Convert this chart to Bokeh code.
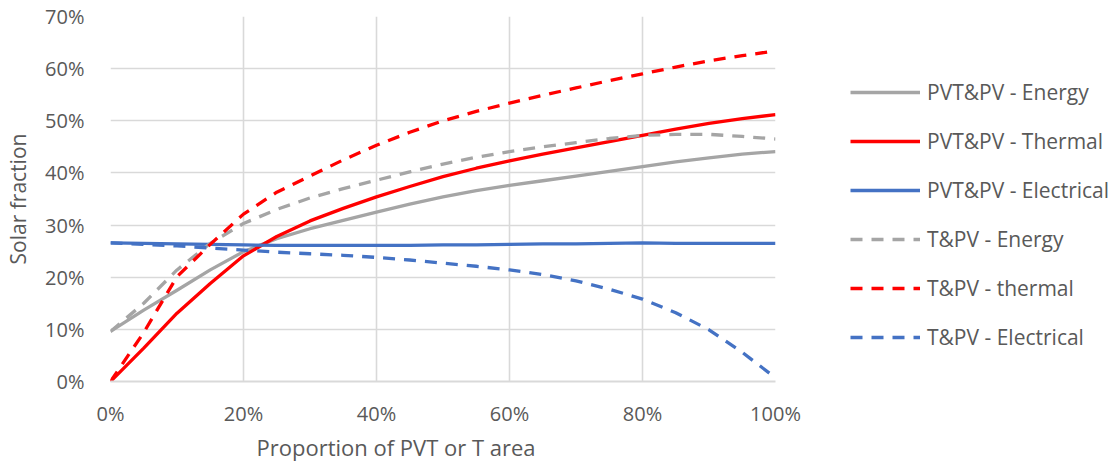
from bokeh.plotting import figure
from bokeh.models import Legend, LegendItem, NumeralTickFormatter, FixedTicker, Range1d, Title
from bokeh.embed import file_html
from bokeh.resources import INLINE

x = [0, 0.05, 0.10, 0.15, 0.20, 0.25, 0.30, 0.35, 0.40, 0.45, 0.50,
     0.55, 0.60, 0.65, 0.70, 0.75, 0.80, 0.85, 0.90, 0.95, 1.00]

pvt_energy = [9.6, 13.7, 17.5, 21.4, 24.9, 27.4, 29.3, 30.9, 32.5, 34.0, 35.4,
              36.6, 37.6, 38.5, 39.4, 40.3, 41.2, 42.1, 42.9, 43.6, 44.1]
pvt_thermal = [0.0, 6.4, 13.1, 18.8, 24.1, 27.8, 30.8, 33.2, 35.4, 37.4, 39.3,
               40.9, 42.3, 43.6, 44.8, 46.0, 47.2, 48.4, 49.5, 50.4, 51.2]
pvt_electrical = [26.6, 26.5, 26.4, 26.3, 26.2, 26.1, 26.1, 26.1, 26.1, 26.1, 26.2,
                  26.2, 26.3, 26.4, 26.4, 26.5, 26.6, 26.5, 26.5, 26.5, 26.5]
t_energy = [9.6, 15.0, 21.4, 26.5, 30.3, 33.0, 35.2, 37.0, 38.6, 40.2, 41.7,
            43.0, 44.1, 45.0, 45.8, 46.6, 47.2, 47.4, 47.4, 47.0, 46.5]
t_thermal = [0.0, 9.4, 20.1, 26.3, 32.1, 36.3, 39.4, 42.5, 45.3, 47.8, 50.0,
             51.8, 53.4, 54.9, 56.3, 57.7, 59.0, 60.3, 61.5, 62.5, 63.4]
t_electrical = [26.6, 26.3, 26.0, 25.6, 25.2, 24.8, 24.5, 24.2, 23.8, 23.3, 22.7,
                22.1, 21.4, 20.5, 19.3, 17.7, 15.8, 13.2, 9.9, 5.6, 0.7]

series = [
    ("PVT&PV - Energy", pvt_energy, "#a5a5a5", "solid"),
    ("PVT&PV - Thermal", pvt_thermal, "#ff0000", "solid"),
    ("PVT&PV - Electrical", pvt_electrical, "#4472c4", "solid"),
    ("T&PV - Energy", t_energy, "#a5a5a5", "12 9"),
    ("T&PV - thermal", t_thermal, "#ff0000", "12 9"),
    ("T&PV - Electrical", t_electrical, "#4472c4", "12 9"),
]

x_ticks = [0, 0.2, 0.4, 0.6, 0.8, 1.0]
y_ticks = [0, 0.1, 0.2, 0.3, 0.4, 0.5, 0.6, 0.7]

FONT = "Open Sans"
TXT = "#595959"

p = figure(frame_width=665, frame_height=365, output_backend="svg",
           toolbar_location=None, min_border_left=110, min_border_top=16,
           min_border_bottom=80, min_border_right=0,
           x_range=Range1d(0, 1), y_range=Range1d(0, 0.7))
p.outline_line_alpha = 0
p.background_fill_color = "white"
p.border_fill_color = "white"

items = []
for name, vals, color, dash in series:
    r = p.line(x, [v / 100 for v in vals], line_color=color, line_width=3.3,
               line_dash=dash, line_join="round")
    items.append(LegendItem(label=name, renderers=[r]))

for ax in (p.xaxis[0], p.yaxis[0]):
    ax.major_tick_line_alpha = 0
    ax.minor_tick_line_alpha = 0
    ax.major_label_text_font = FONT
    ax.major_label_text_font_size = "20px"
    ax.major_label_text_color = TXT
    ax.formatter = NumeralTickFormatter(format="0%")

p.xaxis[0].ticker = FixedTicker(ticks=x_ticks)
p.yaxis[0].ticker = FixedTicker(ticks=y_ticks)
p.xaxis[0].axis_line_color = "#d9d9d9"
p.xaxis[0].axis_line_width = 2
p.yaxis[0].axis_line_alpha = 0
p.xaxis[0].major_label_standoff = 12
p.yaxis[0].major_label_standoff = 20

p.yaxis[0].axis_label = "Solar fraction"
p.yaxis[0].axis_label_text_font = FONT
p.yaxis[0].axis_label_text_font_size = "21px"
p.yaxis[0].axis_label_text_font_style = "normal"
p.yaxis[0].axis_label_text_color = TXT
p.yaxis[0].axis_label_standoff = 10

p.add_layout(Title(text="Proportion of PVT or T area", align="left", offset=146,
                   standoff=0, text_font=FONT, text_font_size="22px",
                   text_font_style="normal", text_color=TXT), "below")

p.xgrid.grid_line_color = "#d9d9d9"
p.ygrid.grid_line_color = "#d9d9d9"
p.xgrid.grid_line_width = 1.6
p.ygrid.grid_line_width = 1.6

legend = Legend(items=items, location=(75, 30), glyph_width=70, glyph_height=20,
                label_height=20, spacing=21, label_standoff=7, padding=0, margin=0,
                border_line_alpha=0, background_fill_alpha=0,
                label_text_font=FONT, label_text_font_size="21px",
                label_text_color=TXT)
p.add_layout(legend, "right")

open("out.html", "w").write(file_html(p, INLINE))
